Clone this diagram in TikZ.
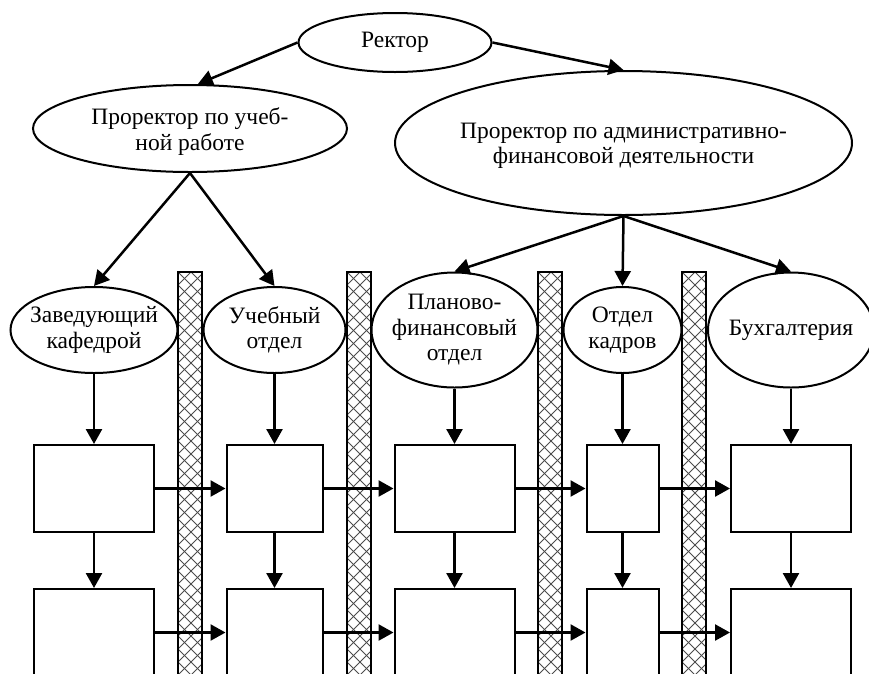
\documentclass[tikz,border=0pt]{standalone}
\usepackage{fontspec}
\setmainfont{Liberation Serif}
\usetikzlibrary{arrows.meta,shapes.geometric}
\newcommand\lowtwo[3]{\raisebox{-#1}[\height][\depth]{\begin{tabular}{@{}c@{}}#2\\#3\end{tabular}}}
\begin{document}
\begin{tikzpicture}[x=1pt,y=-1pt,
  every node/.style={font=\fontsize{23.5}{25.5}\selectfont},
  oval/.style={ellipse, draw, line width=2pt, inner sep=0pt, inner xsep=-14pt, align=center},
  blk/.style={rectangle, draw, line width=2pt, inner sep=0pt, minimum height=87pt},
  arr/.style={line width=2.5pt, -{Triangle[length=15pt,width=16pt]}},
  hatch/.style={line width=1pt, black!70},
  barframe/.style={line width=1.8pt},
]
\clip (0,0) rectangle (869,673);
\fill[white] (0,0) rectangle (869,673);

% hatched separators
\foreach \bx in {178,347,538,682} {
  \begin{scope}
    \clip (\bx,272) rectangle ++(24,410);
    \foreach \k in {-3,...,33} {
      \draw[hatch] (\bx,272+13*\k) -- ++(30,30);
      \draw[hatch] (\bx,272+13*\k) -- ++(30,-30);
    }
  \end{scope}
  \draw[barframe] (\bx,690) -- (\bx,272) -- (\bx+24,272) -- (\bx+24,690);
}

% top level
\node[oval, minimum width=193pt, minimum height=59pt] (r) at (395,42.5) {Ректор};
\node[oval, minimum width=314pt, minimum height=87pt] (pu) at (190,128.5) {\lowtwo{4pt}{Проректор по учеб-}{ной работе}};
\node[oval, minimum width=457pt, minimum height=144pt] (pa) at (623.5,143) {\lowtwo{3pt}{Проректор по административно-}{финансовой деятельности}};

% departments
\node[oval, minimum width=167pt, minimum height=86pt] (e1) at (94,330) {Заведующий\\кафедрой};
\node[oval, minimum width=142pt, minimum height=86pt] (e2) at (274.5,330) {Учебный\\отдел};
\node[oval, minimum width=166pt, minimum height=115pt] (e3) at (454.5,330) {Планово-\\финансовый\\отдел};
\node[oval, minimum width=118pt, minimum height=86pt] (e4) at (622.5,330) {Отдел\\кадров};
\node[oval, minimum width=166pt, minimum height=115pt] (e5) at (791,330) {Бухгалтерия};

% boxes row 1
\node[blk, minimum width=120pt] (a1) at (94,488.5) {};
\node[blk, minimum width=96pt]  (a2) at (274.5,488.5) {};
\node[blk, minimum width=120pt] (a3) at (454.5,488.5) {};
\node[blk, minimum width=72pt]  (a4) at (622.5,488.5) {};
\node[blk, minimum width=120pt] (a5) at (791,488.5) {};
% boxes row 2
\node[blk, minimum width=120pt] (c1) at (94,632.5) {};
\node[blk, minimum width=96pt]  (c2) at (274.5,632.5) {};
\node[blk, minimum width=120pt] (c3) at (454.5,632.5) {};
\node[blk, minimum width=72pt]  (c4) at (622.5,632.5) {};
\node[blk, minimum width=120pt] (c5) at (791,632.5) {};

% connectors
\draw[arr] (r.west) -- (pu.80);
\draw[arr] (r.east) -- (pa.north);
\draw[arr] (pu.south) -- (e1.north);
\draw[arr] (pu.south) -- (e2.north);
\draw[arr] (pa.south) -- (e3.north);
\draw[arr] (pa.south) -- (e4.north);
\draw[arr] (pa.south) -- (e5.north);
\foreach \i in {1,...,5} {
  \draw[arr] (e\i.south) -- (a\i.north);
  \draw[arr] (a\i.south) -- (c\i.north);
}
\foreach \i/\j in {1/2,2/3,3/4,4/5} {
  \draw[arr] (a\i.east) -- (a\j.west);
  \draw[arr] (c\i.east) -- (c\j.west);
}
\end{tikzpicture}
\end{document}
